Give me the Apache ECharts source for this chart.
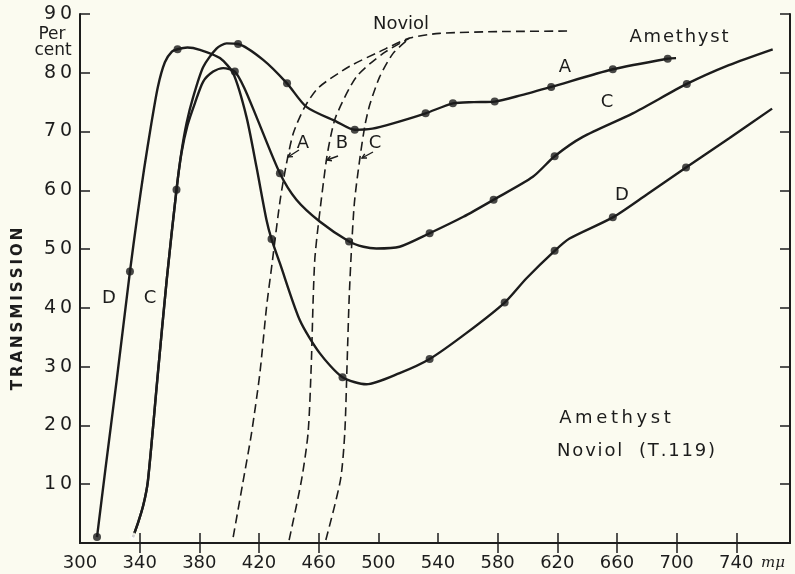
<!DOCTYPE html>
<html><head><meta charset="utf-8">
<script src="https://cdn.jsdelivr.net/npm/echarts@6/dist/echarts.min.js"></script>
<style>html,body{margin:0;padding:0;background:#fbfbf0}#c{width:795px;height:574px}</style>
</head><body><div id="c"></div>
<script>
// ---- data (wavelength mμ, transmission %) ----
const xTickLabels = [300,340,380,420,460,500,540,580,620,660,700,740];
const topTicks = [340,380,420,460,580,620,660,700,740];
const yTickLabels = [10,20,30,40,50,60,70,80,90];

const amethystA = [[335.5,1],[339,3.5],[342.5,6.5],[345.5,10.5],[351.8,27.7],[358.1,44.7],[364.7,60.1],[368,66.5],[371.5,71.5],[375.9,75.9],[382.6,81],[391.5,84.1],[398.3,85],[406,84.9],[422.8,82.2],[438.8,78.2],[451.8,74.2],[471.9,71.7],[484.2,70.3],[496,70.5],[509.9,71.4],[531.7,73.1],[550,74.8],[564,75.0],[578,75.1],[596,76.2],[615.9,77.6],[657.2,80.6],[694,82.4],[699.6,82.5]];
const amethystC = [[335.5,1],[339,3.5],[342.5,6.5],[345.5,10.5],[351.8,27.7],[358.1,44.7],[364.7,60.1],[368,66.3],[372,71],[377,74.8],[382.6,78.5],[389.3,80.2],[396,80.8],[403.8,80.2],[410,77.5],[418.3,72.5],[434,62.9],[445.1,58.4],[460.7,54.7],[480.4,51.3],[490,50.4],[498.7,50.1],[514.3,50.4],[534.4,52.7],[557,55.5],[577.3,58.4],[603.6,62.3],[618.2,65.8],[637.1,69.1],[670.6,73.1],[706.8,78.1],[735,81.3],[764.4,84]];
const amethystD = [[311.4,1],[317,12.5],[324.6,27.7],[333.5,46.2],[338.2,55.2],[342.9,63.5],[347.6,71],[352.2,77.6],[356.9,81.8],[361.6,83.6],[365.4,84],[372,84.3],[380.4,83.9],[393.8,82.5],[402.7,79.9],[411.6,72.5],[418.3,64],[425,55],[428.4,51.7],[434,47.6],[447.4,37.9],[460.7,32.3],[476,28.2],[492,27],[514.3,28.9],[534.4,31.3],[559,35.7],[584.7,40.9],[599.2,45],[618.2,49.7],[628.2,51.8],[657.2,55.4],[680,59.3],[706.3,63.9],[735,68.8],[764,73.9]];

const dotsA = [[406,84.9],[438.8,78.2],[484.2,70.3],[531.7,73.1],[550,74.8],[578,75.1],[615.9,77.6],[657.2,80.6],[694,82.4]];
const dotsC = [[364.7,60.1],[403.8,80.2],[434,62.9],[480.4,51.3],[534.4,52.7],[577.3,58.4],[618.2,65.8],[706.8,78.1]];
const openC = [[335.5,1]];
const dotsD = [[311.4,1],[333.5,46.2],[365.4,84],[428.4,51.7],[476,28.2],[534.4,31.3],[584.7,40.9],[618.2,49.7],[657.2,55.4],[706.3,63.9]];

const noviolA = [[402.7,1],[409,10],[415,18.7],[420.6,28.9],[425,40],[429,48],[434,58],[438,64],[443,69.7],[450.7,74.2],[460,77.5],[480.8,81.1],[500.9,83.6],[521,85.9],[541,86.7],[580,87],[628,87.1]];
const noviolB = [[440.2,0.5],[448.5,10.7],[452.9,18.7],[455,30],[456.3,41.3],[457.4,48.2],[459.6,53.8],[465.2,65.2],[468.5,69.7],[471.9,72.8],[485.3,79.3],[503.2,83.3],[521,85.9]];
const noviolC = [[464.8,0.5],[474.6,10.7],[477.5,18.7],[479,30],[480.4,41.3],[482,50],[484,58],[487.5,65.2],[491,71],[494.2,74.5],[500.9,79.3],[509.9,83.3],[521,85.9]];

// ---- chart ----
const ink = '#1c1c1c';
const font = 'DejaVu Sans';
const spaced = (s, sp) => String(s).split('').join(sp || '\u2009');
const chart = echarts.init(document.getElementById('c'), null, {renderer:'canvas'});

function solid(name, data){
  return {name, type:'line', data, symbol:'none', smooth:0.25,
    lineStyle:{color:ink, width:2.4}, z:3, silent:true};
}
function dashed(name, data){
  return {name, type:'line', data, symbol:'none', smooth:0.25,
    lineStyle:{color:ink, width:1.6, type:[9,5]}, z:2, silent:true};
}
function dots(name, data){
  return {name, type:'scatter', data, symbol:'circle', symbolSize:8, itemStyle:{color:ink}, z:4, silent:true};
}
function txt(x, y, text, size, extra){
  return Object.assign({type:'text', x, y, style:{text, fill:ink, font: (size||17)+'px "'+font+'"', textAlign:'center', textVerticalAlign:'middle'}, z:10}, extra||{});
}
function arrow(x1,y1,x2,y2){
  const a = Math.atan2(y2-y1, x2-x1), h = 5;
  const p1 = [x2 - h*Math.cos(a-0.5), y2 - h*Math.sin(a-0.5)];
  const p2 = [x2 - h*Math.cos(a+0.5), y2 - h*Math.sin(a+0.5)];
  return [
    {type:'line', shape:{x1,y1,x2,y2}, style:{stroke:ink, lineWidth:1.4}, z:10},
    {type:'polyline', shape:{points:[p1,[x2,y2],p2]}, style:{stroke:ink, lineWidth:1.4, fill:null}, z:10}
  ];
}

const axisLineStyle = {show:true, lineStyle:{color:ink, width:2}};
const option = {
  animation:false,
  backgroundColor:'#fbfbf0',
  grid:{left:80, top:14, right:5, bottom:31, containLabel:false},
  xAxis:[
    {type:'value', min:300, max:776, position:'bottom', axisLine:axisLineStyle,
     axisTick:{inside:true, length:10, customValues:xTickLabels, lineStyle:{color:ink, width:1.5}},
     axisLabel:{customValues:xTickLabels, margin:11, color:ink, fontSize:18, fontFamily:font},
     splitLine:{show:false}},
    {type:'value', min:300, max:776, position:'top', axisLine:axisLineStyle,
     axisTick:{inside:true, length:10, customValues:topTicks, lineStyle:{color:ink, width:1.5}},
     axisLabel:{show:false}, splitLine:{show:false}}
  ],
  yAxis:[
    {type:'value', min:0, max:90, position:'left', axisLine:axisLineStyle,
     axisTick:{inside:true, length:10, customValues:yTickLabels, lineStyle:{color:ink, width:1.5}},
     axisLabel:{customValues:yTickLabels, margin:8, color:ink, fontSize:19, fontFamily:font, formatter:v=>spaced(v)},
     splitLine:{show:false}},
    {type:'value', min:0, max:90, position:'right', axisLine:axisLineStyle,
     axisTick:{inside:true, length:10, customValues:yTickLabels, lineStyle:{color:ink, width:1.5}},
     axisLabel:{show:false}, splitLine:{show:false}}
  ],
  series:[
    solid('A', amethystA), solid('C', amethystC), solid('D', amethystD),
    dashed('Noviol A', noviolA), dashed('Noviol B', noviolB), dashed('Noviol C', noviolC),
    dots('dots A', dotsA), dots('dots C', dotsC), dots('dots D', dotsD),
    {name:'open C', type:'scatter', data:openC, symbol:'emptyCircle', symbolSize:7, itemStyle:{color:'#fbfbf0', borderColor:ink, borderWidth:2}, z:4, silent:true}
  ],
  graphic:[
    txt(52, 35, 'Per', 17), txt(53, 51, 'cent', 17),
    {type:'text', x:18, y:309, rotation:Math.PI/2, z:10,
     style:{text:spaced('TRANSMISSION'), fill:ink, font:'bold 15px "'+font+'"', textAlign:'center', textVerticalAlign:'middle'}},
    txt(401, 24, 'Noviol', 18),
    txt(679, 37, spaced('Amethyst','\u200A'), 18),
    txt(565, 67, 'A', 18), txt(607, 102, 'C', 18), txt(622, 195, 'D', 18),
    txt(109, 298, 'D', 18), txt(150, 298, 'C', 18),
    txt(303, 143, 'A', 18), txt(342, 143, 'B', 18), txt(375, 143, 'C', 18),
    ...arrow(299,150,288,157), ...arrow(338,156,327,160), ...arrow(373,152,362,158),
    txt(615, 418, spaced('Amethyst'), 18),
    txt(636, 451, spaced('Noviol  (T.119)','\u200A'), 18),
    {type:'text', x:773, y:563, style:{text:'mμ', fill:ink, font:'italic 15px "DejaVu Serif"', textAlign:'center', textVerticalAlign:'middle'}, z:10}
  ]
};
chart.setOption(option);
</script></body></html>
